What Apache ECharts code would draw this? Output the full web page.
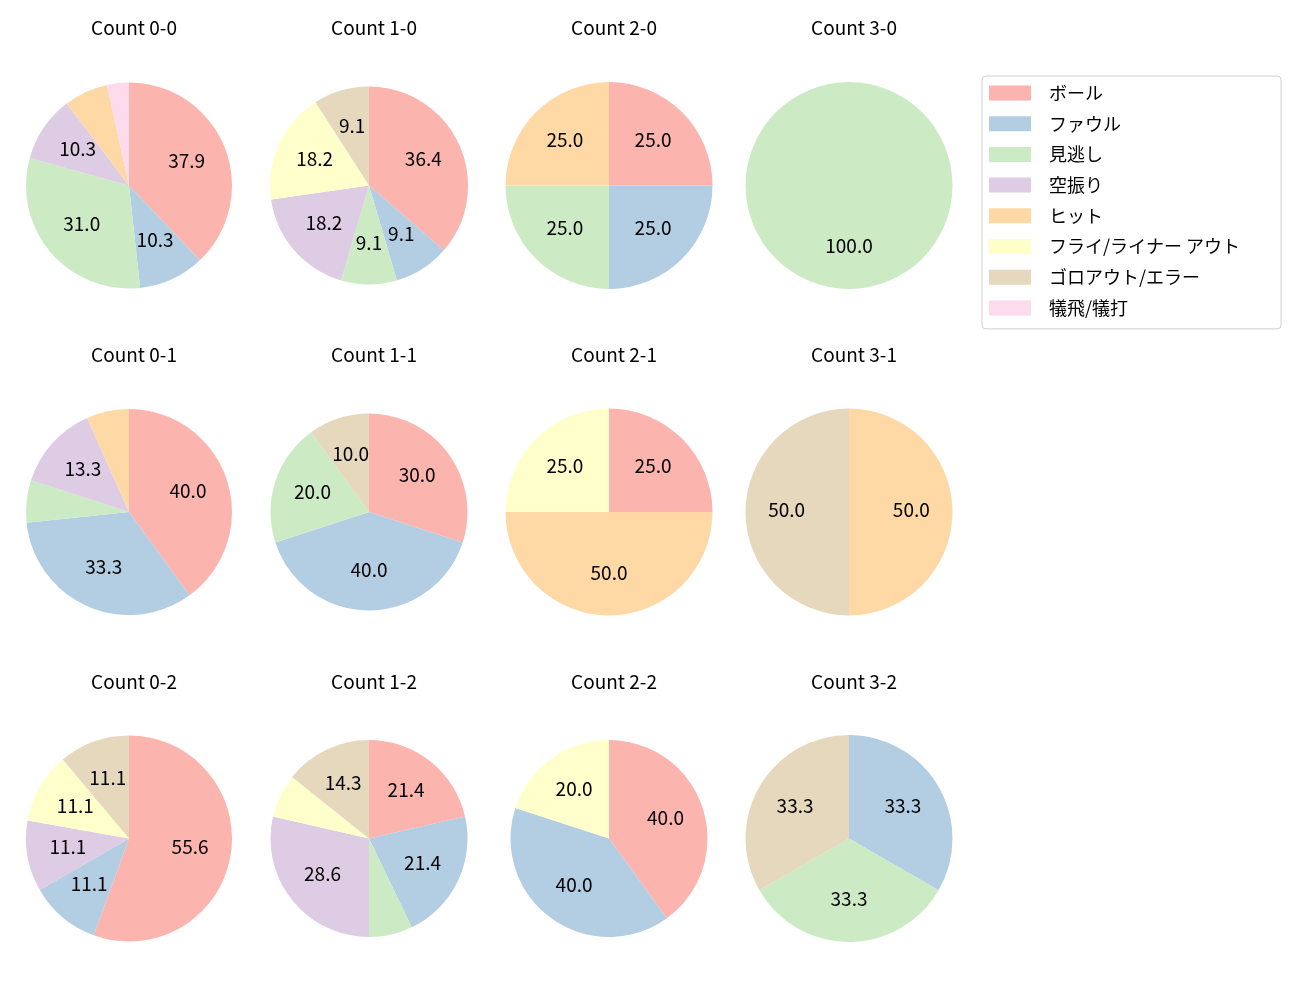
<!DOCTYPE html>
<html>
<head>
<meta charset="utf-8">
<script src="https://cdn.jsdelivr.net/npm/echarts@6/dist/echarts.min.js"></script>
<style>
  html, body { margin: 0; padding: 0; background: #fff; }
  #main { width: 1300px; height: 1000px; }
</style>
</head>
<body>
<div id="main"></div>
<script>
// categories (legend order)
var categories = ['ボール', 'ファウル', '見逃し', '空振り', 'ヒット', 'フライ/ライナー アウト', 'ゴロアウト/エラー', '犠飛/犠打'];
var colors = ['#fbb4ae', '#b3cde3', '#ccebc5', '#decbe4', '#fed9a6', '#ffffcc', '#e5d8bd', '#fddaec'];

// pitch counts per category for each ball-strike count
var titles = ['Count 0-0', 'Count 1-0', 'Count 2-0', 'Count 3-0',
              'Count 0-1', 'Count 1-1', 'Count 2-1', 'Count 3-1',
              'Count 0-2', 'Count 1-2', 'Count 2-2', 'Count 3-2'];
var c00 = [11, 3, 9, 3, 2, 0, 0, 1];
var c10 = [4, 1, 1, 2, 0, 2, 1, 0];
var c20 = [1, 1, 1, 0, 1, 0, 0, 0];
var c30 = [0, 0, 1, 0, 0, 0, 0, 0];
var c01 = [6, 5, 1, 2, 1, 0, 0, 0];
var c11 = [3, 4, 2, 0, 0, 0, 1, 0];
var c21 = [1, 0, 0, 0, 2, 1, 0, 0];
var c31 = [0, 0, 0, 0, 1, 0, 1, 0];
var c02 = [5, 1, 0, 1, 0, 1, 1, 0];
var c12 = [3, 3, 1, 4, 0, 1, 2, 0];
var c22 = [2, 2, 0, 0, 0, 1, 0, 0];
var c32 = [0, 1, 1, 0, 0, 0, 1, 0];
var allCounts = [c00, c10, c20, c30, c01, c11, c21, c31, c02, c12, c22, c32];

// layout
var colX = [129, 369, 609, 849];
var rowY = [185.5, 512, 838.5];
var titleTop = [13, 340, 667];
var radii = [103, 99, 103.5, 103.5,
             103, 98.5, 103.5, 103.5,
             103, 98.5, 98.5, 103.5];
var FONT = 'Noto Sans CJK JP';

var series = [];
var titleList = [];

for (var i = 0; i < allCounts.length; i++) {
	var vals = allCounts[i];
	var total = 0;
	for (var k = 0; k < vals.length; k++) total += vals[k];
	var data = [];
	for (var k = 0; k < vals.length; k++) {
		if (vals[k] > 0) {
			data.push({ name: categories[k], value: vals[k], itemStyle: { color: colors[k] } });
		}
	}
	var cx = colX[i % 4], cy = rowY[Math.floor(i / 4)], r = radii[i];

	titleList.push({
		text: titles[i],
		left: cx,
		top: titleTop[Math.floor(i / 4)],
		textAlign: 'center',
		textStyle: { fontFamily: FONT, fontSize: 19, fontWeight: 'normal', color: '#000' }
	});

	// visible wedges
	series.push({
		type: 'pie',
		center: [cx, cy],
		radius: [0, r],
		startAngle: 90,
		clockwise: true,
		animation: false,
		silent: true,
		itemStyle: { borderWidth: 0 },
		label: { show: false },
		labelLine: { show: false },
		emphasis: { disabled: true },
		data: data
	});

	// transparent overlay used to place the percentage text near 0.6 r
	(function(tot) {
		series.push({
			type: 'pie',
			center: [cx, cy],
			radius: [0.146 * r, r],
			startAngle: 90,
			clockwise: true,
			animation: false,
			silent: true,
			itemStyle: { color: 'rgba(0,0,0,0)', borderWidth: 0 },
			label: {
				show: true,
				position: 'inside',
				offset: [0, -2],
				fontFamily: FONT,
				fontSize: 19,
				color: '#000',
				formatter: function(p) {
					var pct = p.value / tot * 100;
					return pct >= 8 ? pct.toFixed(1) : '';
				}
			},
			labelLine: { show: false },
			emphasis: { disabled: true },
			data: data.map(function(d) { return { name: d.name, value: d.value }; })
		});
	})(total);
}

var myChart = echarts.init(document.getElementById('main'));
var option = {
	backgroundColor: '#fff',
	title: titleList,
	legend: {
		orient: 'vertical',
		left: 982,
		top: 76,
		data: categories,
		icon: 'rect',
		itemWidth: 42,
		itemHeight: 15,
		itemGap: 12.7,
		padding: [8, 41, 12, 7],
		borderColor: '#d0d0d0',
		borderWidth: 1,
		borderRadius: 4,
		selectedMode: false,
		textStyle: {
			fontFamily: FONT,
			fontSize: 18,
			lineHeight: 15,
			color: '#000',
			padding: [0, 0, 0, 13]
		}
	},
	series: series
};
myChart.setOption(option);
</script>
</body>
</html>
